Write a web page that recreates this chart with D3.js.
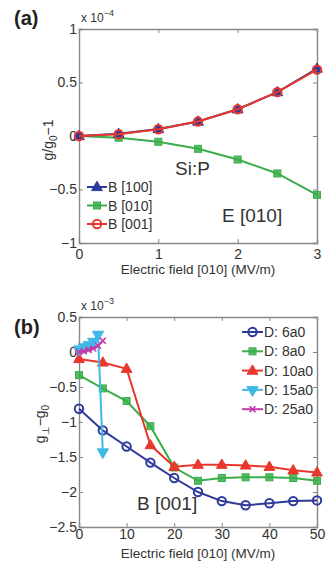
<!DOCTYPE html>
<html>
<head>
<meta charset="utf-8">
<script src="https://cdn.jsdelivr.net/npm/d3@7"></script>
<style>
  body { margin: 0; background: #fff; }
  svg { display: block; }
  .axis text { font-family: "Liberation Sans", Arial, sans-serif; font-size: 14px; fill: #333; }
  .axis .domain, .axis line { stroke: #888; }
</style>
</head>
<body>
<div id="chart"></div>
<script>
// ---- panel (a) data: g/g0 - 1 (x 1e-4) vs E field (MV/m)
const fieldA = [0, 0.5, 1, 1.5, 2, 2.5, 3];
const b100 = [0, 0.02, 0.065, 0.135, 0.25, 0.41, 0.63];
const b010 = [0, -0.016, -0.054, -0.12, -0.22, -0.35, -0.55];
const b001 = [0, 0.016, 0.063, 0.135, 0.25, 0.41, 0.62];
const ticksAx = [0, 1, 2, 3];
const ticksAy = [-1, -0.5, 0, 0.5, 1];

// ---- panel (b) data: g_perp - g0 (x 1e-3) vs E field (MV/m)
const fieldB = [0, 5, 10, 15, 20, 25, 30, 35, 40, 45, 50];
const d6 = [-0.81, -1.12, -1.35, -1.58, -1.80, -2.00, -2.13, -2.19, -2.16, -2.13, -2.12];
const d8 = [-0.33, -0.52, -0.70, -1.06, -1.65, -1.84, -1.80, -1.79, -1.79, -1.80, -1.84];
const d10 = [-0.10, -0.15, -0.24, -1.33, -1.64, -1.61, -1.61, -1.62, -1.64, -1.69, -1.72];
const fieldB15 = [0, 1, 2, 3, 4, 5];
const d15 = [0.04, 0.07, 0.10, 0.15, 0.25, -1.43];
const fieldB25 = [0, 1, 2, 3, 4, 5];
const d25 = [0, 0.01, 0.03, 0.05, 0.09, 0.16];
const ticksBx = [0, 10, 20, 30, 40, 50];
const ticksBy = [-2.5, -2, -1.5, -1, -0.5, 0, 0.5];

const BLUE = "#2e3a9c", GREEN = "#3aae4a", RED = "#e8372c", CYAN = "#3fb9e6", MAGENTA = "#c23aa8";

const svg = d3.select("#chart").append("svg")
    .attr("width", 330).attr("height", 561);

const fmt = v => (v < 0 ? "\u2212" : "") + Math.abs(v);

function marker(g, type, x, y, color) {
    if (type === "circle") {
        g.append("circle").attr("cx", x).attr("cy", y).attr("r", 4.2)
            .attr("fill", "none").attr("stroke", color).attr("stroke-width", 2);
    } else if (type === "square") {
        g.append("rect").attr("x", x - 3.5).attr("y", y - 3.5).attr("width", 7).attr("height", 7)
            .attr("fill", color).attr("stroke", color).attr("stroke-width", 1)
            .attr("fill-opacity", 0.85);
    } else if (type === "triangle") {
        g.append("path").attr("d", d3.symbol(d3.symbolTriangle, 50)())
            .attr("transform", "translate(" + x + "," + (y + 0.5) + ")")
            .attr("fill", color).attr("stroke", color).attr("stroke-width", 1);
    } else if (type === "tridown") {
        g.append("path").attr("d", d3.symbol(d3.symbolTriangle, 55)())
            .attr("transform", "translate(" + x + "," + y + ") rotate(180)")
            .attr("fill", color).attr("stroke", color).attr("stroke-width", 1);
    } else if (type === "x") {
        g.append("path").attr("d", "M-3,-3L3,3M-3,3L3,-3")
            .attr("transform", "translate(" + x + "," + y + ")")
            .attr("stroke", color).attr("stroke-width", 1.6);
    }
}

function drawSeries(g, xs, ys, x, y, color, type) {
    const line = d3.line().x((d, i) => x(xs[i])).y(d => y(d));
    g.append("path").datum(ys).attr("d", line)
        .attr("fill", "none").attr("stroke", color).attr("stroke-width", 2);
    ys.forEach((v, i) => marker(g, type, x(xs[i]), y(v), color));
}

function frame(g, x, y, xt, yt, h, w, pad) {
    g.append("g").attr("class", "axis").attr("transform", "translate(0," + h + ")")
        .call(d3.axisBottom(x).tickValues(xt).tickSize(-4).tickPadding(pad).tickFormat(d => d));
    g.append("g").attr("class", "axis")
        .call(d3.axisTop(x).tickValues(xt).tickSize(-4).tickFormat(""));
    g.append("g").attr("class", "axis")
        .call(d3.axisLeft(y).tickValues(yt).tickSize(-4).tickPadding(2).tickFormat(fmt));
    g.append("g").attr("class", "axis").attr("transform", "translate(" + w + ",0)")
        .call(d3.axisRight(y).tickValues(yt).tickSize(-4).tickFormat(""));
    g.selectAll(".axis .domain").attr("stroke-width", 1.4);
}

function expLabel(g, exp) {
    const t = g.append("text").attr("x", 2).attr("y", -7)
        .style("font-family", "Liberation Sans, Arial, sans-serif")
        .style("font-size", "12px").attr("fill", "#333");
    t.append("tspan").text("x 10");
    t.append("tspan").attr("dy", -6).style("font-size", "9px").text(exp);
}

// ===================== panel (a) =====================
const A = { left: 79, top: 29, w: 238, h: 214 };
const ga = svg.append("g").attr("transform", "translate(" + A.left + "," + A.top + ")");
const xa = d3.scaleLinear().domain([0, 3]).range([0, A.w]);
const ya = d3.scaleLinear().domain([-1, 1]).range([A.h, 0]);
frame(ga, xa, ya, ticksAx, ticksAy, A.h, A.w, 6);
drawSeries(ga, fieldA, b010, xa, ya, GREEN, "square");
drawSeries(ga, fieldA, b100, xa, ya, BLUE, "triangle");
drawSeries(ga, fieldA, b001, xa, ya, RED, "circle");
expLabel(ga, "\u22124");

ga.append("text").attr("x", A.w / 2).attr("y", A.h + 31).attr("text-anchor", "middle")
    .style("font-family", "Liberation Sans, Arial, sans-serif").style("font-size", "13.5px")
    .attr("fill", "#333").text("Electric field [010] (MV/m)");

const yla = svg.append("text").attr("transform", "translate(53,140) rotate(-90)")
    .attr("text-anchor", "middle")
    .style("font-family", "Liberation Sans, Arial, sans-serif").style("font-size", "14px").attr("fill", "#333");
yla.append("tspan").text("g/g");
yla.append("tspan").attr("dy", 4).style("font-size", "10px").text("0");
yla.append("tspan").attr("dy", -4).text("\u22121");

const legA = [["B [100]", BLUE, "triangle"], ["B [010]", GREEN, "square"], ["B [001]", RED, "circle"]];
legA.forEach((d, i) => {
    const yy = 187 + i * 18.5;
    svg.append("line").attr("x1", 87).attr("x2", 107).attr("y1", yy).attr("y2", yy)
        .attr("stroke", d[1]).attr("stroke-width", 2);
    marker(svg, d[2], 97, yy, d[1]);
    svg.append("text").attr("x", 108).attr("y", yy + 5)
        .style("font-family", "Liberation Sans, Arial, sans-serif").style("font-size", "14px")
        .attr("fill", "#333").text(d[0]);
});

const noteFont = "Liberation Sans Narrow, Liberation Sans, Arial, sans-serif";
svg.append("text").attr("x", 175).attr("y", 175).style("font-family", noteFont)
    .style("font-size", "19px").attr("fill", "#333").text("Si:P");
svg.append("text").attr("x", 222).attr("y", 222).style("font-family", noteFont)
    .style("font-size", "19px").attr("fill", "#333").text("E [010]");
svg.append("text").attr("x", 14).attr("y", 25).style("font-family", noteFont)
    .style("font-size", "20px").style("font-weight", "bold").attr("fill", "#222").text("(a)");

// ===================== panel (b) =====================
const B = { left: 79, top: 317, w: 238, h: 210 };
const gb = svg.append("g").attr("transform", "translate(" + B.left + "," + B.top + ")");
const xb = d3.scaleLinear().domain([0, 50]).range([0, B.w]);
const yb = d3.scaleLinear().domain([-2.5, 0.5]).range([B.h, 0]);
frame(gb, xb, yb, ticksBx, ticksBy, B.h, B.w, 2);
drawSeries(gb, fieldB, d6, xb, yb, BLUE, "circle");
drawSeries(gb, fieldB, d8, xb, yb, GREEN, "square");
drawSeries(gb, fieldB, d10, xb, yb, RED, "triangle");
drawSeries(gb, fieldB15, d15, xb, yb, CYAN, "tridown");
drawSeries(gb, fieldB25, d25, xb, yb, MAGENTA, "x");
expLabel(gb, "\u22123");

gb.append("text").attr("x", B.w / 2).attr("y", B.h + 31).attr("text-anchor", "middle")
    .style("font-family", "Liberation Sans, Arial, sans-serif").style("font-size", "13.5px")
    .attr("fill", "#333").text("Electric field [010] (MV/m)");

const ylb = svg.append("text").attr("transform", "translate(45,424) rotate(-90)")
    .attr("text-anchor", "middle")
    .style("font-family", "Liberation Sans, Arial, sans-serif").style("font-size", "14px").attr("fill", "#333");
ylb.append("tspan").text("g");
ylb.append("tspan").attr("dy", 4).style("font-size", "10px").text("\u22a5");
ylb.append("tspan").attr("dy", -4).text("\u2212g");
ylb.append("tspan").attr("dy", 4).style("font-size", "10px").text("0");

const legB = [["D: 6a0", BLUE, "circle"], ["D: 8a0", GREEN, "square"], ["D: 10a0", RED, "triangle"],
              ["D: 15a0", CYAN, "tridown"], ["D: 25a0", MAGENTA, "x"]];
legB.forEach((d, i) => {
    const yy = 332 + i * 19.3;
    svg.append("line").attr("x1", 242).attr("x2", 263).attr("y1", yy).attr("y2", yy)
        .attr("stroke", d[1]).attr("stroke-width", 2);
    marker(svg, d[2], 252.5, yy, d[1]);
    svg.append("text").attr("x", 264).attr("y", yy + 5)
        .style("font-family", "Liberation Sans, Arial, sans-serif").style("font-size", "14px")
        .attr("fill", "#333").text(d[0]);
});

svg.append("text").attr("x", 137).attr("y", 510).style("font-family", noteFont)
    .style("font-size", "19px").attr("fill", "#333").text("B [001]");
svg.append("text").attr("x", 14).attr("y", 334).style("font-family", noteFont)
    .style("font-size", "20px").style("font-weight", "bold").attr("fill", "#222").text("(b)");
</script>
</body>
</html>
